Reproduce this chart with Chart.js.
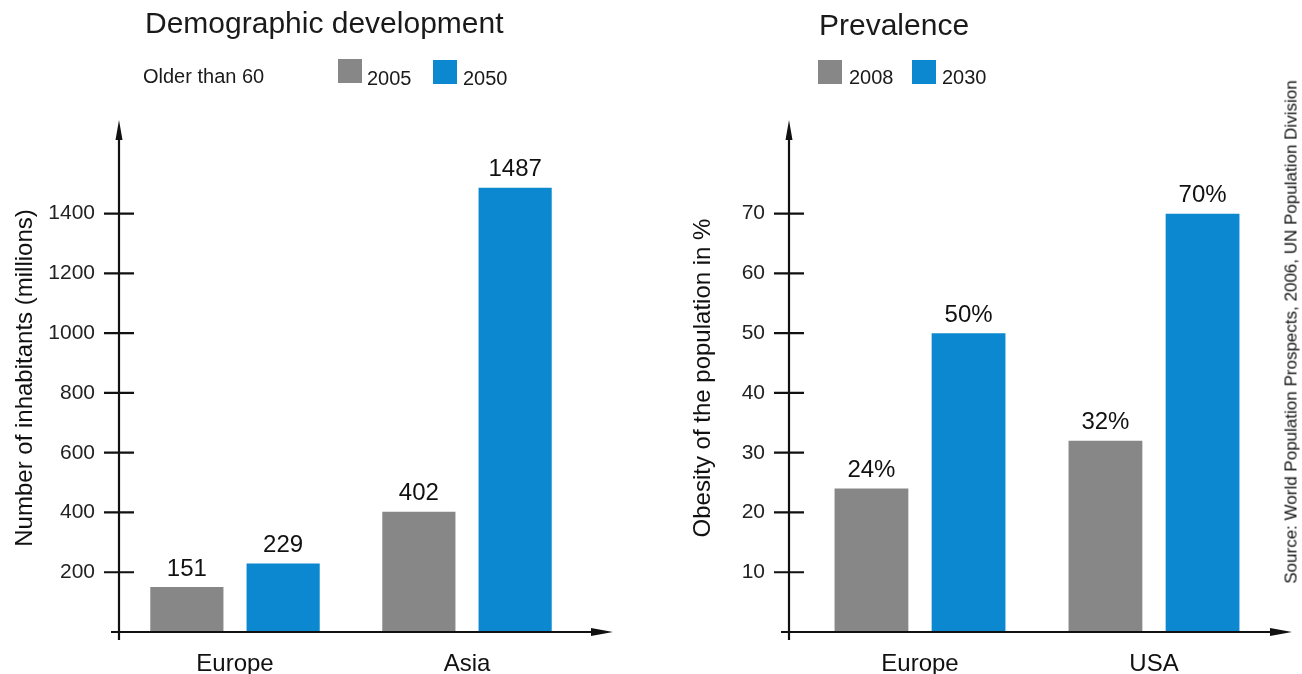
<!DOCTYPE html>
<html>
<head>
<meta charset="utf-8">
<script src="https://cdn.jsdelivr.net/npm/chart.js@4.4.0/dist/chart.umd.min.js"></script>
<style>
body { margin: 0; background: #fff; font-family: "Liberation Sans", Arial, sans-serif; color: #1a1a1a; }
#page { position: relative; width: 1302px; height: 674px; overflow: hidden; }
.txt { position: absolute; line-height: 1; white-space: nowrap; z-index: 2; }
.sw { position: absolute; width: 24px; height: 24px; z-index: 2; }
canvas { position: absolute; top: 0; }
</style>
</head>
<body>
<div id="page">
  <div class="txt" style="left:145px;top:8px;font-size:30px">Demographic development</div>
  <div class="txt" style="left:143px;top:66px;font-size:20px">Older than 60</div>
  <div class="sw" style="left:338px;top:59px;background:#878787"></div>
  <div class="txt" style="left:367px;top:68px;font-size:20px">2005</div>
  <div class="sw" style="left:433px;top:60px;background:#0b88cf"></div>
  <div class="txt" style="left:463px;top:68px;font-size:20px">2050</div>

  <div class="txt" style="left:819px;top:10px;font-size:30px">Prevalence</div>
  <div class="sw" style="left:818px;top:60px;background:#878787"></div>
  <div class="txt" style="left:849px;top:67px;font-size:20px">2008</div>
  <div class="sw" style="left:912px;top:60px;background:#0b88cf"></div>
  <div class="txt" style="left:942px;top:67px;font-size:20px">2030</div>

  <div class="txt" style="left:1291px;top:332px;font-size:17px;color:#111;transform:translate(-50%,-50%) rotate(-90deg)">Source: World Population Prospects, 2006, UN Population Division</div>

  <canvas id="demoChart" width="640" height="674" style="left:0;width:640px;height:674px"></canvas>
  <canvas id="obesityChart" width="652" height="674" style="left:650px;width:652px;height:674px"></canvas>
</div>

<script>
// Demographic development, older than 60 (millions)
const demoRegions = ['Europe', 'Asia'];
const demo2005 = [151, 402];
const demo2050 = [229, 1487];
const demoTicks = [200, 400, 600, 800, 1000, 1200, 1400];

// Prevalence of obesity (%)
const obesityRegions = ['Europe', 'USA'];
const obesity2008 = [24, 32];
const obesity2030 = [50, 70];
const obesityTicks = [10, 20, 30, 40, 50, 60, 70];

const gray = '#878787';
const blue = '#0b88cf';
const ink = '#111';
const fontName = '"Liberation Sans", Arial, sans-serif';

// axis lines with arrows, crossing ticks and value labels on top of the bars
const axisArrows = {
  id: 'axisArrows',
  afterDraw(chart, args, o) {
    const ctx = chart.ctx;
    const a = chart.chartArea;
    const y = chart.scales.y;
    const x0 = a.left - o.gap;

    ctx.save();
    ctx.strokeStyle = ink;
    ctx.fillStyle = ink;
    ctx.lineWidth = 2.2;
    ctx.beginPath();
    ctx.moveTo(x0, a.bottom + 8);
    ctx.lineTo(x0, o.yTip + 14);
    ctx.moveTo(x0 - 8, a.bottom);
    ctx.lineTo(o.xTip - 14, a.bottom);
    y.ticks.forEach(function (t) {
      const py = y.getPixelForValue(t.value);
      ctx.moveTo(x0 - 15, py);
      ctx.lineTo(x0 + 15, py);
    });
    ctx.stroke();

    ctx.beginPath();
    ctx.moveTo(x0, o.yTip);
    ctx.lineTo(x0 + 3.5, o.yTip + 20);
    ctx.lineTo(x0 - 3.5, o.yTip + 20);
    ctx.closePath();
    ctx.moveTo(o.xTip, a.bottom);
    ctx.lineTo(o.xTip - 22, a.bottom - 4);
    ctx.lineTo(o.xTip - 22, a.bottom + 4);
    ctx.closePath();
    ctx.fill();

    ctx.font = '24px ' + fontName;
    ctx.textAlign = 'center';
    ctx.textBaseline = 'bottom';
    chart.data.datasets.forEach(function (ds, i) {
      chart.getDatasetMeta(i).data.forEach(function (bar, j) {
        ctx.fillText(ds.data[j] + o.suffix, bar.x, bar.y - 6);
      });
    });
    ctx.restore();
  }
};

function barChart(canvasId, labels, first, second, ticks, yMax, yTitle, o) {
  return new Chart(document.getElementById(canvasId), {
    type: 'bar',
    data: {
      labels: labels,
      datasets: [
        { data: first, backgroundColor: gray, categoryPercentage: 0.83, barPercentage: 0.76 },
        { data: second, backgroundColor: blue, categoryPercentage: 0.83, barPercentage: 0.76 }
      ]
    },
    options: {
      responsive: false,
      animation: false,
      layout: { padding: { top: 124, right: o.right, left: 0, bottom: 0 } },
      plugins: {
        legend: { display: false },
        tooltip: { enabled: false },
        axisArrows: { gap: o.gap, yTip: 120, xTip: o.xTip, suffix: o.suffix }
      },
      scales: {
        x: {
          grid: { display: false, drawTicks: false },
          border: { display: false },
          ticks: { color: ink, font: { family: fontName, size: 24 }, padding: 18 },
          afterFit: function (s) { s.height = 42; }
        },
        y: {
          min: 0,
          max: yMax,
          grid: { display: false, drawTicks: false },
          border: { display: false },
          ticks: {
            color: '#222',
            font: { family: fontName, size: 21 },
            padding: o.tickPad,
            callback: function (v) { return String(v); }
          },
          afterBuildTicks: function (s) { s.ticks = ticks.map(function (v) { return { value: v }; }); },
          afterFit: function (s) {
            s.width = o.yWidth;
            s.paddingTop = 0;
            s.paddingBottom = 0;
          },
          title: {
            display: true,
            text: yTitle,
            color: ink,
            font: { family: fontName, size: 24 },
            padding: { top: o.titlePad, bottom: 0 }
          }
        }
      }
    },
    plugins: [axisArrows]
  });
}

barChart('demoChart', demoRegions, demo2005, demo2050, demoTicks, 1700,
  'Number of inhabitants (millions)',
  { right: 57, gap: 0, xTip: 613, suffix: '', tickPad: 24, yWidth: 119, titlePad: 11 });

barChart('obesityChart', obesityRegions, obesity2008, obesity2030, obesityTicks, 85,
  'Obesity of the population in %',
  { right: 31, gap: 14, xTip: 642, suffix: '%', tickPad: 38, yWidth: 153, titlePad: 39 });
</script>
</body>
</html>
